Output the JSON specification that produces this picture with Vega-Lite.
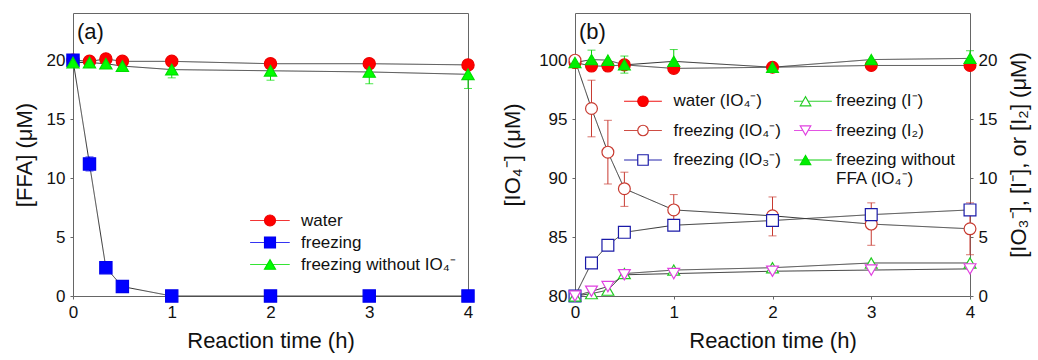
{
  "$schema": "https://vega.github.io/schema/vega-lite/v6.json",
  "background": "white",
  "padding": {"left": 12, "top": 12, "right": 5, "bottom": 5},
  "spacing": 23,
  "resolve": {
    "scale": {"shape": "independent", "fill": "independent", "stroke": "independent", "color": "independent", "strokeDash": "independent"},
    "legend": {"shape": "independent", "fill": "independent", "stroke": "independent", "color": "independent", "strokeDash": "independent"}
  },
  "config": {
    "font": "Liberation Sans",
    "view": {"stroke": "#666", "strokeWidth": 1},
    "axis": {"domain": false, "grid": false, "labelFlush": false, "tickColor": "#666", "tickSize": 3, "labelFont": "Liberation Sans", "labelFontSize": 17, "labelColor": "#111", "titleFont": "Liberation Sans", "titleFontSize": 22, "titleFontWeight": "normal", "titleColor": "#111", "labelPadding": 5, "titlePadding": 10},
    "legend": {"labelFont": "Liberation Sans", "labelColor": "#111", "labelLimit": 400},
    "title": {"font": "Liberation Sans", "fontSize": 22, "fontWeight": "normal", "anchor": "start", "frame": "group", "color": "#111"}
  },
  "datasets": {
    "ffa": [
      {"t": 0, "v": 20.0, "s": "water"},
      {"t": 0.167, "v": 19.9, "s": "water"},
      {"t": 0.333, "v": 20.1, "s": "water"},
      {"t": 0.5, "v": 19.9, "s": "water"},
      {"t": 1, "v": 19.9, "s": "water"},
      {"t": 2, "v": 19.7, "s": "water"},
      {"t": 3, "v": 19.7, "s": "water"},
      {"t": 4, "v": 19.6, "s": "water"},
      {"t": 0, "v": 20.0, "s": "freezing"},
      {"t": 0.167, "v": 11.2, "lo": 10.6, "hi": 11.8, "s": "freezing"},
      {"t": 0.333, "v": 2.4, "s": "freezing"},
      {"t": 0.5, "v": 0.8, "s": "freezing"},
      {"t": 1, "v": 0, "s": "freezing"},
      {"t": 2, "v": 0, "s": "freezing"},
      {"t": 3, "v": 0, "s": "freezing"},
      {"t": 4, "v": 0, "s": "freezing"},
      {"t": 0, "v": 19.8, "s": "freezing without IO₄⁻"},
      {"t": 0.167, "v": 19.8, "s": "freezing without IO₄⁻"},
      {"t": 0.333, "v": 19.7, "lo": 19.4, "hi": 20.0, "s": "freezing without IO₄⁻"},
      {"t": 0.5, "v": 19.5, "s": "freezing without IO₄⁻"},
      {"t": 1, "v": 19.2, "lo": 18.5, "hi": 19.9, "s": "freezing without IO₄⁻"},
      {"t": 2, "v": 19.1, "lo": 18.3, "hi": 19.9, "s": "freezing without IO₄⁻"},
      {"t": 3, "v": 19.0, "lo": 18.0, "hi": 20.0, "s": "freezing without IO₄⁻"},
      {"t": 4, "v": 18.8, "lo": 17.6, "hi": 20.0, "s": "freezing without IO₄⁻"}
    ],
    "io": [
      {"t": 0, "v": 99.8, "s": "water (IO₄⁻)"},
      {"t": 0.167, "v": 99.5, "s": "water (IO₄⁻)"},
      {"t": 0.333, "v": 99.5, "s": "water (IO₄⁻)"},
      {"t": 0.5, "v": 99.6, "s": "water (IO₄⁻)"},
      {"t": 1, "v": 99.3, "s": "water (IO₄⁻)"},
      {"t": 2, "v": 99.4, "s": "water (IO₄⁻)"},
      {"t": 3, "v": 99.55, "s": "water (IO₄⁻)"},
      {"t": 4, "v": 99.55, "s": "water (IO₄⁻)"},
      {"t": 0, "v": 100.0, "s": "freezing (IO₄⁻)"},
      {"t": 0.167, "v": 95.9, "lo": 93.5, "hi": 98.3, "s": "freezing (IO₄⁻)"},
      {"t": 0.333, "v": 92.2, "lo": 89.5, "hi": 94.9, "s": "freezing (IO₄⁻)"},
      {"t": 0.5, "v": 89.1, "lo": 87.6, "hi": 90.5, "s": "freezing (IO₄⁻)"},
      {"t": 1, "v": 87.3, "lo": 86.0, "hi": 88.6, "s": "freezing (IO₄⁻)"},
      {"t": 2, "v": 86.8, "lo": 85.1, "hi": 88.4, "s": "freezing (IO₄⁻)"},
      {"t": 3, "v": 86.1, "lo": 84.3, "hi": 87.9, "s": "freezing (IO₄⁻)"},
      {"t": 4, "v": 85.7, "lo": 83.5, "hi": 87.9, "s": "freezing (IO₄⁻)"},
      {"t": 0, "v": 99.8, "s": "freezing without FFA (IO₄⁻)"},
      {"t": 0.167, "v": 100.05, "lo": 99.3, "hi": 100.85, "s": "freezing without FFA (IO₄⁻)"},
      {"t": 0.333, "v": 100.0, "s": "freezing without FFA (IO₄⁻)"},
      {"t": 0.5, "v": 99.6, "lo": 98.9, "hi": 100.35, "s": "freezing without FFA (IO₄⁻)"},
      {"t": 1, "v": 99.9, "lo": 98.9, "hi": 100.9, "s": "freezing without FFA (IO₄⁻)"},
      {"t": 2, "v": 99.4, "s": "freezing without FFA (IO₄⁻)"},
      {"t": 3, "v": 100.05, "s": "freezing without FFA (IO₄⁻)"},
      {"t": 4, "v": 100.15, "lo": 99.5, "hi": 100.8, "s": "freezing without FFA (IO₄⁻)"},
      {"t": 0, "v": 0, "s": "freezing (IO₃⁻)"},
      {"t": 0.167, "v": 2.8, "s": "freezing (IO₃⁻)"},
      {"t": 0.333, "v": 4.3, "s": "freezing (IO₃⁻)"},
      {"t": 0.5, "v": 5.4, "s": "freezing (IO₃⁻)"},
      {"t": 1, "v": 6.0, "s": "freezing (IO₃⁻)"},
      {"t": 2, "v": 6.4, "s": "freezing (IO₃⁻)"},
      {"t": 3, "v": 6.9, "s": "freezing (IO₃⁻)"},
      {"t": 4, "v": 7.3, "s": "freezing (IO₃⁻)"},
      {"t": 0, "v": 0, "s": "freezing (I⁻)"},
      {"t": 0.167, "v": 0.2, "s": "freezing (I⁻)"},
      {"t": 0.333, "v": 0.5, "s": "freezing (I⁻)"},
      {"t": 0.5, "v": 1.9, "s": "freezing (I⁻)"},
      {"t": 1, "v": 2.2, "s": "freezing (I⁻)"},
      {"t": 2, "v": 2.4, "s": "freezing (I⁻)"},
      {"t": 3, "v": 2.8, "s": "freezing (I⁻)"},
      {"t": 4, "v": 2.8, "s": "freezing (I⁻)"},
      {"t": 0, "v": 0, "s": "freezing (I₂)"},
      {"t": 0.167, "v": 0.4, "s": "freezing (I₂)"},
      {"t": 0.333, "v": 0.8, "s": "freezing (I₂)"},
      {"t": 0.5, "v": 1.8, "s": "freezing (I₂)"},
      {"t": 1, "v": 1.9, "s": "freezing (I₂)"},
      {"t": 2, "v": 2.1, "s": "freezing (I₂)"},
      {"t": 3, "v": 2.2, "s": "freezing (I₂)"},
      {"t": 4, "v": 2.3, "s": "freezing (I₂)"}
    ]
  },
  "hconcat": [
    {
      "width": 395,
      "height": 283,
      "title": {"text": "(a)", "dx": 4, "dy": 31, "offset": 0},
      "data": {"name": "ffa"},
      "layer": [
        {
          "mark": {"type": "line", "color": "#333", "strokeWidth": 1},
          "encoding": {
            "x": {"field": "t", "type": "quantitative", "scale": {"domain": [0, 4], "nice": false, "zero": false}, "axis": {"values": [0, 1, 2, 3, 4], "format": "d", "title": "Reaction time (h)"}},
            "y": {"field": "v", "type": "quantitative", "scale": {"domain": [0, 24], "nice": false}, "axis": {"values": [0, 5, 10, 15, 20], "title": "[FFA] (μM)"}},
            "strokeDash": {"field": "s", "type": "nominal", "scale": {"domain": ["freezing without IO₄⁻", "freezing", "water"], "range": [[1, 0], [1, 0], [1, 0]]},
              "legend": {"orient": "none", "legendX": 188.5, "legendY": 199, "title": null, "symbolType": "M-3.6,0H3.6", "symbolSize": 120, "symbolStrokeColor": "#444", "symbolStrokeWidth": 1, "labelFontSize": 17, "labelOffset": 22.5, "rowPadding": 4, "padding": 0, "values": ["water", "freezing", "freezing without IO₄⁻"], "labelExpr": "''"}}
          }
        },
        {
          "transform": [{"filter": "isValid(datum.lo)"}],
          "mark": {"type": "rule", "strokeWidth": 1},
          "encoding": {
            "x": {"field": "t", "type": "quantitative", "scale": {"domain": [0, 4], "nice": false, "zero": false}, "axis": {"values": [0, 1, 2, 3, 4], "format": "d", "title": "Reaction time (h)"}},
            "y": {"field": "lo", "type": "quantitative", "scale": {"domain": [0, 24], "nice": false}, "axis": {"values": [0, 5, 10, 15, 20], "title": "[FFA] (μM)"}},
            "y2": {"field": "hi"},
            "color": {"field": "s", "type": "nominal", "scale": {"domain": ["freezing without IO₄⁻", "freezing", "water"], "range": ["#00dd00", "#0000ee", "#ee0000"]}, "legend": null}
          }
        },
        {
          "transform": [{"filter": "isValid(datum.lo)"}],
          "mark": {"type": "tick", "orient": "horizontal", "size": 8, "thickness": 1},
          "encoding": {
            "x": {"field": "t", "type": "quantitative", "scale": {"domain": [0, 4], "nice": false, "zero": false}, "axis": {"values": [0, 1, 2, 3, 4], "format": "d", "title": "Reaction time (h)"}},
            "y": {"field": "lo", "type": "quantitative", "scale": {"domain": [0, 24], "nice": false}, "axis": {"values": [0, 5, 10, 15, 20], "title": "[FFA] (μM)"}},
            "color": {"field": "s", "type": "nominal", "scale": {"domain": ["freezing without IO₄⁻", "freezing", "water"], "range": ["#00dd00", "#0000ee", "#ee0000"]}, "legend": null}
          }
        },
        {
          "transform": [{"filter": "isValid(datum.hi)"}],
          "mark": {"type": "tick", "orient": "horizontal", "size": 8, "thickness": 1},
          "encoding": {
            "x": {"field": "t", "type": "quantitative", "scale": {"domain": [0, 4], "nice": false, "zero": false}, "axis": {"values": [0, 1, 2, 3, 4], "format": "d", "title": "Reaction time (h)"}},
            "y": {"field": "hi", "type": "quantitative", "scale": {"domain": [0, 24], "nice": false}, "axis": {"values": [0, 5, 10, 15, 20], "title": "[FFA] (μM)"}},
            "color": {"field": "s", "type": "nominal", "scale": {"domain": ["freezing without IO₄⁻", "freezing", "water"], "range": ["#00dd00", "#0000ee", "#ee0000"]}, "legend": null}
          }
        },
        {
          "mark": {"type": "point", "filled": true, "size": 150, "opacity": 1, "strokeWidth": 1.2},
          "encoding": {
            "x": {"field": "t", "type": "quantitative", "scale": {"domain": [0, 4], "nice": false, "zero": false}, "axis": {"values": [0, 1, 2, 3, 4], "format": "d", "title": "Reaction time (h)"}},
            "y": {"field": "v", "type": "quantitative", "scale": {"domain": [0, 24], "nice": false}, "axis": {"values": [0, 5, 10, 15, 20], "title": "[FFA] (μM)"}},
            "shape": {"field": "s", "type": "nominal", "scale": {"domain": ["water", "freezing", "freezing without IO₄⁻"], "range": ["circle", "square", "triangle-up"]},
              "legend": {"orient": "none", "legendX": 188.5, "legendY": 199, "title": null, "symbolSize": 120, "symbolStrokeWidth": 1.2, "symbolOpacity": 1, "labelFontSize": 17, "labelOffset": 22.5, "rowPadding": 4, "padding": 0}},
            "fill": {"field": "s", "type": "nominal", "scale": {"domain": ["water", "freezing", "freezing without IO₄⁻"], "range": ["#ff0000", "#0000ff", "#00ff00"]},
              "legend": {"orient": "none", "legendX": 188.5, "legendY": 199, "title": null, "symbolSize": 120, "symbolStrokeWidth": 1.2, "symbolOpacity": 1, "labelFontSize": 17, "labelOffset": 22.5, "rowPadding": 4, "padding": 0}},
            "stroke": {"field": "s", "type": "nominal", "scale": {"domain": ["water", "freezing", "freezing without IO₄⁻"], "range": ["#ee0000", "#0000ee", "#00dd00"]},
              "legend": {"orient": "none", "legendX": 188.5, "legendY": 199, "title": null, "symbolSize": 120, "symbolStrokeWidth": 1.2, "symbolOpacity": 1, "labelFontSize": 17, "labelOffset": 22.5, "rowPadding": 4, "padding": 0}}
          }
        }
      ]
    },
    {
      "width": 395,
      "height": 283,
      "title": {"text": "(b)", "dx": 4, "dy": 31, "offset": 0},
      "data": {"name": "io"},
      "layer": [
        {
          "transform": [{"filter": "indexof(datum.s, 'IO₄⁻') >= 0"}],
          "layer": [
            {
              "mark": {"type": "line", "color": "#333", "strokeWidth": 1},
              "encoding": {
                "x": {"field": "t", "type": "quantitative", "scale": {"domain": [0, 4], "nice": false, "zero": false}, "axis": {"values": [0, 1, 2, 3, 4], "format": "d", "title": "Reaction time (h)"}},
                "y": {"field": "v", "type": "quantitative", "scale": {"domain": [80, 104], "nice": false, "zero": false}, "axis": {"values": [80, 85, 90, 95, 100], "title": "[IO₄⁻] (μM)", "orient": "left", "titlePadding": 14}},
                "strokeDash": {"field": "s", "type": "nominal", "scale": {"domain": ["freezing without FFA (IO₄⁻)", "freezing (I₂)", "freezing (I⁻)", "freezing (IO₃⁻)", "freezing (IO₄⁻)", "water (IO₄⁻)"], "range": [[1, 0], [1, 0], [1, 0], [1, 0], [1, 0], [1, 0]]},
                  "legend": {"orient": "none", "legendX": 59.5, "legendY": 79.5, "title": null, "columns": 2, "columnPadding": 118, "symbolType": "M-3.6,0H3.6", "symbolSize": 110, "symbolStrokeColor": "#444", "symbolStrokeWidth": 1, "labelFontSize": 17, "labelOffset": 22, "rowPadding": 11.5, "padding": 0, "values": ["water (IO₄⁻)", "freezing (IO₄⁻)", "freezing (IO₃⁻)", "freezing (I⁻)", "freezing (I₂)", "freezing without FFA (IO₄⁻)"], "labelExpr": "''"}}
              }
            },
            {
              "transform": [{"filter": "isValid(datum.lo)"}],
              "mark": {"type": "rule", "strokeWidth": 1},
              "encoding": {
                "x": {"field": "t", "type": "quantitative", "scale": {"domain": [0, 4], "nice": false, "zero": false}, "axis": {"values": [0, 1, 2, 3, 4], "format": "d", "title": "Reaction time (h)"}},
                "y": {"field": "lo", "type": "quantitative", "scale": {"domain": [80, 104], "nice": false, "zero": false}, "axis": {"values": [80, 85, 90, 95, 100], "title": "[IO₄⁻] (μM)", "orient": "left", "titlePadding": 14}},
                "y2": {"field": "hi"},
                "color": {"field": "s", "type": "nominal", "scale": {"domain": ["freezing without FFA (IO₄⁻)", "freezing (I₂)", "freezing (I⁻)", "freezing (IO₃⁻)", "freezing (IO₄⁻)", "water (IO₄⁻)"], "range": ["#00cc00", "#e040e0", "#22cc22", "#1a1aa8", "#c83a30", "#ee0000"]}, "legend": null}
              }
            },
            {
              "transform": [{"filter": "isValid(datum.lo)"}],
              "mark": {"type": "tick", "orient": "horizontal", "size": 8, "thickness": 1},
              "encoding": {
                "x": {"field": "t", "type": "quantitative", "scale": {"domain": [0, 4], "nice": false, "zero": false}, "axis": {"values": [0, 1, 2, 3, 4], "format": "d", "title": "Reaction time (h)"}},
                "y": {"field": "lo", "type": "quantitative", "scale": {"domain": [80, 104], "nice": false, "zero": false}, "axis": {"values": [80, 85, 90, 95, 100], "title": "[IO₄⁻] (μM)", "orient": "left", "titlePadding": 14}},
                "color": {"field": "s", "type": "nominal", "scale": {"domain": ["freezing without FFA (IO₄⁻)", "freezing (I₂)", "freezing (I⁻)", "freezing (IO₃⁻)", "freezing (IO₄⁻)", "water (IO₄⁻)"], "range": ["#00cc00", "#e040e0", "#22cc22", "#1a1aa8", "#c83a30", "#ee0000"]}, "legend": null}
              }
            },
            {
              "transform": [{"filter": "isValid(datum.hi)"}],
              "mark": {"type": "tick", "orient": "horizontal", "size": 8, "thickness": 1},
              "encoding": {
                "x": {"field": "t", "type": "quantitative", "scale": {"domain": [0, 4], "nice": false, "zero": false}, "axis": {"values": [0, 1, 2, 3, 4], "format": "d", "title": "Reaction time (h)"}},
                "y": {"field": "hi", "type": "quantitative", "scale": {"domain": [80, 104], "nice": false, "zero": false}, "axis": {"values": [80, 85, 90, 95, 100], "title": "[IO₄⁻] (μM)", "orient": "left", "titlePadding": 14}},
                "color": {"field": "s", "type": "nominal", "scale": {"domain": ["freezing without FFA (IO₄⁻)", "freezing (I₂)", "freezing (I⁻)", "freezing (IO₃⁻)", "freezing (IO₄⁻)", "water (IO₄⁻)"], "range": ["#00cc00", "#e040e0", "#22cc22", "#1a1aa8", "#c83a30", "#ee0000"]}, "legend": null}
              }
            },
            {
              "mark": {"type": "point", "filled": true, "size": 140, "opacity": 1, "strokeWidth": 1.2},
              "encoding": {
                "x": {"field": "t", "type": "quantitative", "scale": {"domain": [0, 4], "nice": false, "zero": false}, "axis": {"values": [0, 1, 2, 3, 4], "format": "d", "title": "Reaction time (h)"}},
                "y": {"field": "v", "type": "quantitative", "scale": {"domain": [80, 104], "nice": false, "zero": false}, "axis": {"values": [80, 85, 90, 95, 100], "title": "[IO₄⁻] (μM)", "orient": "left", "titlePadding": 14}},
                "shape": {"field": "s", "type": "nominal", "scale": {"domain": ["water (IO₄⁻)", "freezing (IO₄⁻)", "freezing (IO₃⁻)", "freezing (I⁻)", "freezing (I₂)", "freezing without FFA (IO₄⁻)"], "range": ["circle", "circle", "square", "triangle-up", "triangle-down", "triangle-up"]},
                  "legend": {"orient": "none", "legendX": 59.5, "legendY": 79.5, "title": null, "columns": 2, "columnPadding": 15.5, "symbolSize": 110, "symbolStrokeWidth": 1.2, "symbolOpacity": 1, "labelFontSize": 17, "labelOffset": 22, "rowPadding": 11.5, "padding": 0, "labelExpr": "indexof(datum.label, 'FFA') >= 0 ? ['freezing without', 'FFA (IO₄⁻)'] : datum.label"}},
                "fill": {"field": "s", "type": "nominal", "scale": {"domain": ["water (IO₄⁻)", "freezing (IO₄⁻)", "freezing (IO₃⁻)", "freezing (I⁻)", "freezing (I₂)", "freezing without FFA (IO₄⁻)"], "range": ["#ff0000", "#ffffff", "#ffffff", "#ffffff", "#ffffff", "#00ee00"]},
                  "legend": {"orient": "none", "legendX": 59.5, "legendY": 79.5, "title": null, "columns": 2, "columnPadding": 15.5, "symbolSize": 110, "symbolStrokeWidth": 1.2, "symbolOpacity": 1, "labelFontSize": 17, "labelOffset": 22, "rowPadding": 11.5, "padding": 0, "labelExpr": "indexof(datum.label, 'FFA') >= 0 ? ['freezing without', 'FFA (IO₄⁻)'] : datum.label"}},
                "stroke": {"field": "s", "type": "nominal", "scale": {"domain": ["water (IO₄⁻)", "freezing (IO₄⁻)", "freezing (IO₃⁻)", "freezing (I⁻)", "freezing (I₂)", "freezing without FFA (IO₄⁻)"], "range": ["#ee0000", "#c83a30", "#1a1aa8", "#22cc22", "#e040e0", "#00dd00"]},
                  "legend": {"orient": "none", "legendX": 59.5, "legendY": 79.5, "title": null, "columns": 2, "columnPadding": 15.5, "symbolSize": 110, "symbolStrokeWidth": 1.2, "symbolOpacity": 1, "labelFontSize": 17, "labelOffset": 22, "rowPadding": 11.5, "padding": 0, "labelExpr": "indexof(datum.label, 'FFA') >= 0 ? ['freezing without', 'FFA (IO₄⁻)'] : datum.label"}}
              }
            }
          ]
        },
        {
          "transform": [{"filter": "indexof(datum.s, 'IO₄⁻') < 0"}],
          "layer": [
            {
              "mark": {"type": "line", "color": "#333", "strokeWidth": 1},
              "encoding": {
                "x": {"field": "t", "type": "quantitative", "scale": {"domain": [0, 4], "nice": false, "zero": false}, "axis": {"values": [0, 1, 2, 3, 4], "format": "d", "title": "Reaction time (h)"}},
                "y": {"field": "v", "type": "quantitative", "scale": {"domain": [0, 24], "nice": false}, "axis": {"values": [0, 5, 10, 15, 20], "title": "[IO₃⁻], [I⁻], or [I₂] (μM)", "orient": "right", "titleAngle": 270, "titleBaseline": "top", "titlePadding": 12}},
                "strokeDash": {"field": "s", "type": "nominal", "scale": {"domain": ["freezing without FFA (IO₄⁻)", "freezing (I₂)", "freezing (I⁻)", "freezing (IO₃⁻)", "freezing (IO₄⁻)", "water (IO₄⁻)"], "range": [[1, 0], [1, 0], [1, 0], [1, 0], [1, 0], [1, 0]]},
                  "legend": {"orient": "none", "legendX": 59.5, "legendY": 79.5, "title": null, "columns": 2, "columnPadding": 118, "symbolType": "M-3.6,0H3.6", "symbolSize": 110, "symbolStrokeColor": "#444", "symbolStrokeWidth": 1, "labelFontSize": 17, "labelOffset": 22, "rowPadding": 11.5, "padding": 0, "values": ["water (IO₄⁻)", "freezing (IO₄⁻)", "freezing (IO₃⁻)", "freezing (I⁻)", "freezing (I₂)", "freezing without FFA (IO₄⁻)"], "labelExpr": "''"}}
              }
            },
            {
              "mark": {"type": "point", "filled": true, "size": 140, "opacity": 1, "strokeWidth": 1.2},
              "encoding": {
                "x": {"field": "t", "type": "quantitative", "scale": {"domain": [0, 4], "nice": false, "zero": false}, "axis": {"values": [0, 1, 2, 3, 4], "format": "d", "title": "Reaction time (h)"}},
                "y": {"field": "v", "type": "quantitative", "scale": {"domain": [0, 24], "nice": false}, "axis": {"values": [0, 5, 10, 15, 20], "title": "[IO₃⁻], [I⁻], or [I₂] (μM)", "orient": "right", "titleAngle": 270, "titleBaseline": "top", "titlePadding": 12}},
                "shape": {"field": "s", "type": "nominal", "scale": {"domain": ["water (IO₄⁻)", "freezing (IO₄⁻)", "freezing (IO₃⁻)", "freezing (I⁻)", "freezing (I₂)", "freezing without FFA (IO₄⁻)"], "range": ["circle", "circle", "square", "triangle-up", "triangle-down", "triangle-up"]},
                  "legend": {"orient": "none", "legendX": 59.5, "legendY": 79.5, "title": null, "columns": 2, "columnPadding": 15.5, "symbolSize": 110, "symbolStrokeWidth": 1.2, "symbolOpacity": 1, "labelFontSize": 17, "labelOffset": 22, "rowPadding": 11.5, "padding": 0, "labelExpr": "indexof(datum.label, 'FFA') >= 0 ? ['freezing without', 'FFA (IO₄⁻)'] : datum.label"}},
                "fill": {"field": "s", "type": "nominal", "scale": {"domain": ["water (IO₄⁻)", "freezing (IO₄⁻)", "freezing (IO₃⁻)", "freezing (I⁻)", "freezing (I₂)", "freezing without FFA (IO₄⁻)"], "range": ["#ff0000", "#ffffff", "#ffffff", "#ffffff", "#ffffff", "#00ee00"]},
                  "legend": {"orient": "none", "legendX": 59.5, "legendY": 79.5, "title": null, "columns": 2, "columnPadding": 15.5, "symbolSize": 110, "symbolStrokeWidth": 1.2, "symbolOpacity": 1, "labelFontSize": 17, "labelOffset": 22, "rowPadding": 11.5, "padding": 0, "labelExpr": "indexof(datum.label, 'FFA') >= 0 ? ['freezing without', 'FFA (IO₄⁻)'] : datum.label"}},
                "stroke": {"field": "s", "type": "nominal", "scale": {"domain": ["water (IO₄⁻)", "freezing (IO₄⁻)", "freezing (IO₃⁻)", "freezing (I⁻)", "freezing (I₂)", "freezing without FFA (IO₄⁻)"], "range": ["#ee0000", "#c83a30", "#1a1aa8", "#22cc22", "#e040e0", "#00dd00"]},
                  "legend": {"orient": "none", "legendX": 59.5, "legendY": 79.5, "title": null, "columns": 2, "columnPadding": 15.5, "symbolSize": 110, "symbolStrokeWidth": 1.2, "symbolOpacity": 1, "labelFontSize": 17, "labelOffset": 22, "rowPadding": 11.5, "padding": 0, "labelExpr": "indexof(datum.label, 'FFA') >= 0 ? ['freezing without', 'FFA (IO₄⁻)'] : datum.label"}}
              }
            }
          ]
        }
      ],
      "resolve": {"scale": {"y": "independent"}}
    }
  ]
}
